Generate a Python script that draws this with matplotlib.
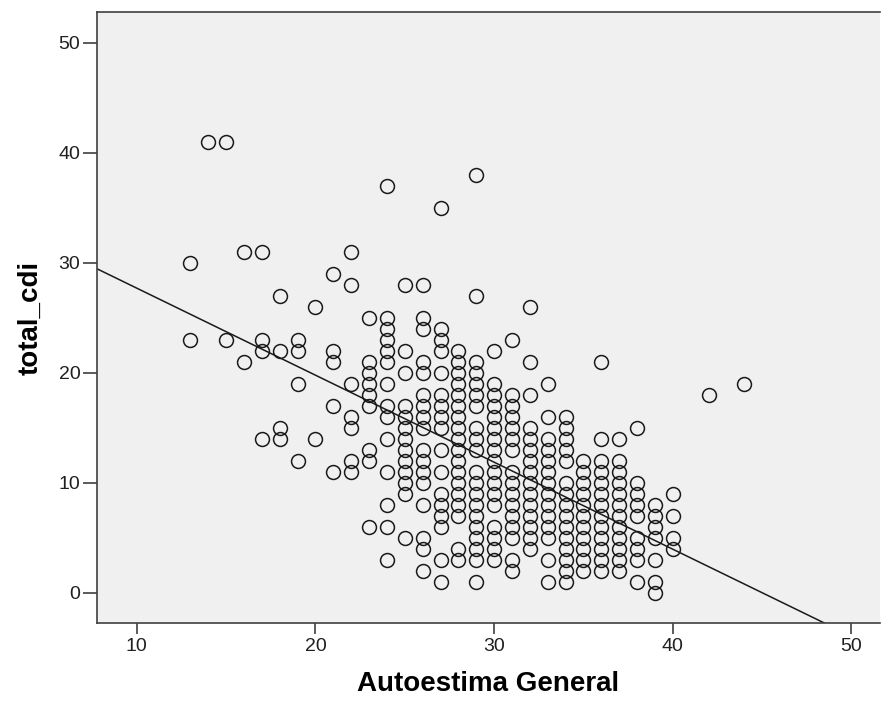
import matplotlib
matplotlib.use("Agg")
import matplotlib.pyplot as plt

# Autoestima General (x) vs total_cdi (y), one line per x column
autoestima = []
total_cdi = []

col_13 = [30, 23]
col_14 = [41]
col_15 = [41, 23]
col_16 = [31, 21]
col_17 = [31, 23, 22, 14]
col_18 = [27, 22, 15, 14]
col_19 = [23, 22, 19, 12]
col_20 = [26, 14]
col_21 = [29, 22, 21, 17, 11]
col_22 = [31, 28, 19, 16, 15, 12, 11]
col_23 = [25, 21, 20, 19, 18, 17, 13, 12, 6]
col_24 = [37, 25, 24, 23, 22, 21, 19, 17, 16, 14, 11, 8, 6, 3]
col_25 = [28, 22, 20, 17, 16, 15, 14, 13, 12, 11, 10, 9, 5]
col_26 = [28, 25, 24, 21, 20, 18, 17, 16, 15, 13, 12, 11, 10, 8, 5, 4, 2]
col_27 = [35, 24, 23, 22, 20, 18, 17, 16, 15, 13, 11, 9, 8, 7, 6, 3, 1]
col_28 = [22, 21, 20, 19, 18, 17, 16, 15, 14, 13, 12, 11, 10, 9, 8, 7, 4, 3]
col_29 = [38, 27, 21, 20, 19, 18, 17, 15, 14, 13, 11, 10, 9, 8, 7, 6, 5, 4, 3, 1]
col_30 = [22, 19, 18, 17, 16, 15, 14, 13, 12, 11, 10, 9, 8, 6, 5, 4, 3]
col_31 = [23, 18, 17, 16, 15, 14, 13, 11, 10, 9, 8, 7, 6, 5, 3, 2]
col_32 = [26, 21, 18, 15, 14, 13, 12, 11, 10, 9, 8, 7, 6, 5, 4]
col_33 = [19, 16, 14, 13, 12, 11, 10, 9, 8, 7, 6, 5, 3, 1]
col_34 = [16, 15, 14, 13, 12, 10, 9, 8, 7, 6, 5, 4, 3, 2, 1]
col_35 = [12, 11, 10, 9, 8, 7, 6, 5, 4, 3, 2]
col_36 = [21, 14, 12, 11, 10, 9, 8, 7, 6, 5, 4, 3, 2]
col_37 = [14, 12, 11, 10, 9, 8, 7, 6, 5, 4, 3, 2]
col_38 = [15, 10, 9, 8, 7, 5, 4, 3, 1]
col_39 = [8, 7, 6, 5, 3, 1, 0]
col_40 = [9, 7, 5, 4]
col_42 = [18]
col_44 = [19]

columns = {13: col_13, 14: col_14, 15: col_15, 16: col_16, 17: col_17,
           18: col_18, 19: col_19, 20: col_20, 21: col_21, 22: col_22,
           23: col_23, 24: col_24, 25: col_25, 26: col_26, 27: col_27,
           28: col_28, 29: col_29, 30: col_30, 31: col_31, 32: col_32,
           33: col_33, 34: col_34, 35: col_35, 36: col_36, 37: col_37,
           38: col_38, 39: col_39, 40: col_40, 42: col_42, 44: col_44}
for x, ys in columns.items():
    autoestima += [x] * len(ys)
    total_cdi += ys

# fit line
intercept = 35.6
slope = -0.791

xticks = [10, 20, 30, 40, 50]
yticks = [0, 10, 20, 30, 40, 50]

plt.rcParams['font.family'] = ['Liberation Sans', 'DejaVu Sans']

fig = plt.figure(figsize=(8.83, 7.13), dpi=100)
ax = fig.add_axes([97/883, 1 - 623/713, 1 - 97/883 - 3/883, (623 - 12)/713])
ax.set_facecolor('#f0f0f0')

ax.plot(autoestima, total_cdi, linestyle='none', marker='o', ms=10,
        mfc='none', mec='#1a1a1a', mew=1.1, zorder=3)
ax.axline((0, intercept), slope=slope, color='#1a1a1a', lw=1.1, zorder=2)

ax.set_xlim(7.77, 51.6)
ax.set_ylim(-2.75, 52.8)
ax.set_xticks(xticks)
ax.set_yticks(yticks)
ax.tick_params(direction='out', width=1.2, color='#404040',
               labelsize=14, labelcolor='#202020')
ax.tick_params(axis='x', length=8, pad=3)
ax.tick_params(axis='y', length=10, pad=2)
for side in ['left', 'bottom', 'top', 'right']:
    ax.spines[side].set_color('#404040')
    ax.spines[side].set_linewidth(1.2)
ax.spines['right'].set_visible(False)

ax.set_xlabel('Autoestima General', fontsize=20, fontweight='bold', labelpad=11)
ax.set_ylabel('total_cdi', fontsize=20, fontweight='bold', labelpad=11)

fig.savefig('out.png', dpi=100)
